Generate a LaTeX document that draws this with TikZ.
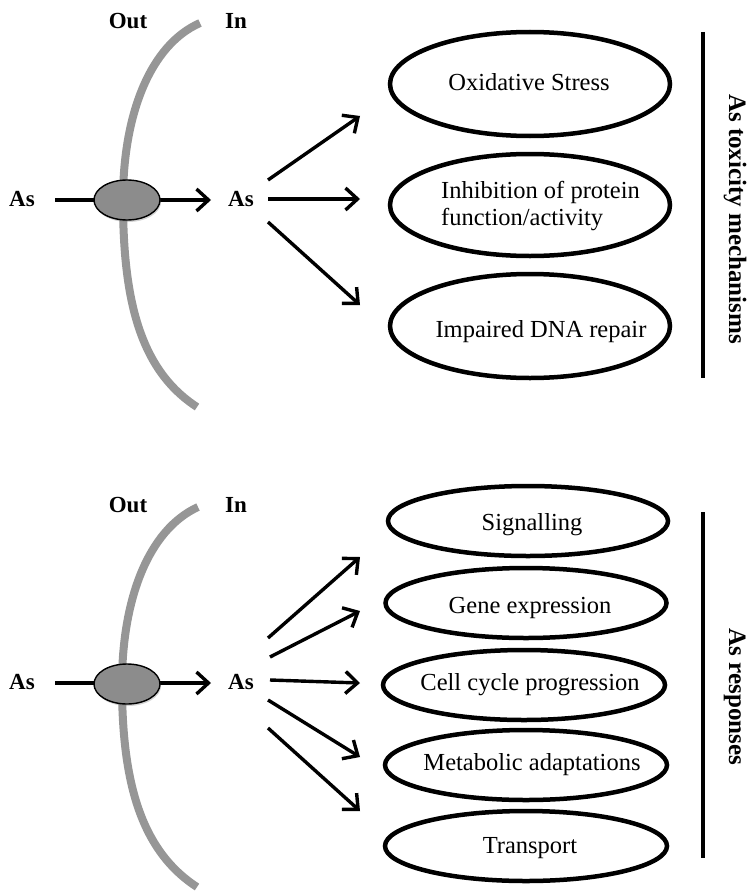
\documentclass[tikz,border=0pt]{standalone}
\usepackage{fontspec}
\setmainfont{Liberation Serif}
\usetikzlibrary{shapes.geometric,arrows.meta,shadows}
\definecolor{memgray}{RGB}{150,150,150}
\definecolor{poregray}{RGB}{140,140,140}
\begin{document}
\begin{tikzpicture}[x=1pt,y=-1pt,
  membrane/.style={draw=memgray,line width=8pt},
  pore/.style={ellipse,draw=black,line width=1.4pt,fill=poregray,minimum width=66pt,minimum height=40pt,inner sep=0pt,
    drop shadow={opacity=0.35,shadow xshift=1pt,shadow yshift=-2pt}},
  arr/.style={line width=3.4pt,-{Straight Barb[length=12pt,width=22pt]}},
  lbl/.style={font=\bfseries\fontsize{23}{26}\selectfont,inner sep=0pt,anchor=base},
  oval/.style={ellipse,draw=black,line width=4.5pt,inner sep=0pt},
  etext/.style={font=\fontsize{24.5}{27}\selectfont,inner sep=0pt,align=left},
  side/.style={font=\bfseries\fontsize{25}{30}\selectfont,rotate=-90,inner sep=0pt,anchor=base},
  bar/.style={line width=4.5pt}]
\useasboundingbox (0,0) rectangle (751,891);

% ===== Top panel =====
\draw[membrane] (200,23) .. controls (150,45) and (123,115) .. (123,200)
  .. controls (123,300) and (140,370) .. (197,407);
\node[lbl] (outA) at (128,29) {Out};
\node[lbl] (inA) at (236,29) {In};
\node[lbl] (asLA) at (22,206) {As};
\node[lbl] (asRA) at (241,206) {As};
\coordinate (hA0) at (55,200);
\coordinate (hA1) at (211,200);
\draw[arr] (hA0) -- (hA1);
\node[pore] (poreA) at (127,200) {};

\node[oval,minimum width=280pt,minimum height=104pt] (e1) at (530,84) {};
\node[oval,minimum width=280pt,minimum height=102pt] (e2) at (530,205) {};
\node[oval,minimum width=280pt,minimum height=104pt] (e3) at (530,326) {};
\node[etext,anchor=base] (t1) at (529,90) {Oxidative Stress};
\node[etext,anchor=west] (t2) at (441,206) {Inhibition of protein\\function/activity};
\node[etext,anchor=base] (t3) at (541,337) {Impaired DNA repair};

\coordinate (sA1) at (268,180); \coordinate (eA1) at (360,116);
\coordinate (sA2) at (268,199); \coordinate (eA2) at (360,199);
\coordinate (sA3) at (268,222); \coordinate (eA3) at (360,305);
\draw[arr] (sA1) -- (eA1);
\draw[arr] (sA2) -- (eA2);
\draw[arr] (sA3) -- (eA3);

\coordinate (bA0) at (703,32); \coordinate (bA1) at (703,378);
\draw[bar] (bA0) -- (bA1);
\node[side] (sideA) at (729,219) {As toxicity mechanisms};

% ===== Bottom panel =====
\draw[membrane] (198,507) .. controls (148,530) and (122,600) .. (122,684)
  .. controls (122,780) and (140,850) .. (197,887);
\node[lbl] (outB) at (128,512) {Out};
\node[lbl] (inB) at (236,512) {In};
\node[lbl] (asLB) at (22,689) {As};
\node[lbl] (asRB) at (241,689) {As};
\coordinate (hB0) at (55,683);
\coordinate (hB1) at (211,683);
\draw[arr] (hB0) -- (hB1);
\node[pore] (poreB) at (127,684) {};

\node[oval,minimum width=280pt,minimum height=70pt] (f1) at (528,521) {};
\node[oval,minimum width=281pt,minimum height=70pt] (f2) at (526,603) {};
\node[oval,minimum width=282pt,minimum height=70pt] (f3) at (524,685) {};
\node[oval,minimum width=282pt,minimum height=70pt] (f4) at (526,765) {};
\node[oval,minimum width=282pt,minimum height=70pt] (f5) at (526,846) {};
\node[etext,anchor=base] (u1) at (532,530) {Signalling};
\node[etext,anchor=base] (u2) at (530,613) {Gene expression};
\node[etext,anchor=base] (u3) at (530,690) {Cell cycle progression};
\node[etext,anchor=base] (u4) at (532,770) {Metabolic adaptations};
\node[etext,anchor=base] (u5) at (530,853) {Transport};

\coordinate (sB1) at (268,638); \coordinate (eB1) at (360,557);
\coordinate (sB2) at (270,657); \coordinate (eB2) at (360,611);
\coordinate (sB3) at (270,680); \coordinate (eB3) at (360,683);
\coordinate (sB4) at (268,700); \coordinate (eB4) at (360,757);
\coordinate (sB5) at (268,728); \coordinate (eB5) at (360,811);
\draw[arr] (sB1) -- (eB1);
\draw[arr] (sB2) -- (eB2);
\draw[arr] (sB3) -- (eB3);
\draw[arr] (sB4) -- (eB4);
\draw[arr] (sB5) -- (eB5);

\coordinate (bB0) at (703,512); \coordinate (bB1) at (703,858);
\draw[bar] (bB0) -- (bB1);
\node[side] (sideB) at (729,697) {As responses};
\end{tikzpicture}
\end{document}
